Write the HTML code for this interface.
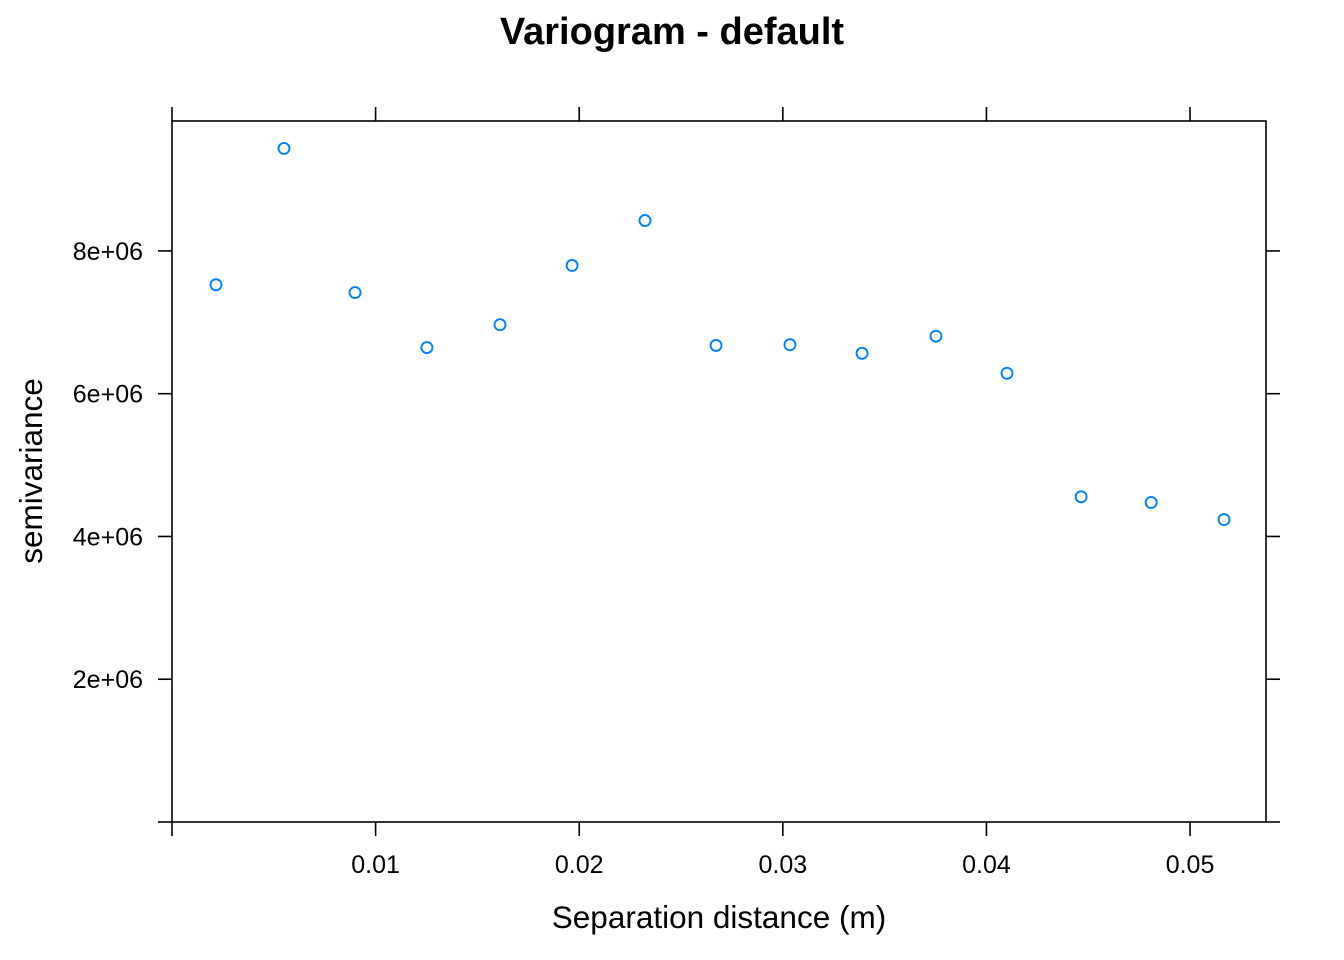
<!DOCTYPE html>
<html><head><meta charset="utf-8"><style>
body{margin:0;background:#fff;}
svg{display:block;font-family:"Liberation Sans",Arial,sans-serif;}
</style></head><body>
<svg id="chart" width="1344" height="960">
<text x="672" y="44" text-anchor="middle" font-size="38" font-weight="bold">Variogram - default</text>
<rect x="172" y="121" width="1094" height="701" fill="none" stroke="#000" stroke-width="1.6"/>
<g id="xaxis"></g>
<g id="yaxis"></g>
<g id="points"></g>
<text x="719" y="928" text-anchor="middle" font-size="31.5">Separation distance (m)</text>
<text transform="translate(42,471) rotate(-90)" text-anchor="middle" font-size="31.5">semivariance</text>
</svg>
<script>
const distances=[0.00216,0.0055,0.00899,0.01252,0.01611,0.01965,0.02323,0.02672,0.03035,0.03389,0.03752,0.04101,0.04465,0.04809,0.05167];
const gammas=[7.54e6,9.45e6,7.43e6,6.66e6,6.98e6,7.81e6,8.44e6,6.69e6,6.70e6,6.58e6,6.82e6,6.30e6,4.57e6,4.49e6,4.25e6];
const xTicks=[0,0.01,0.02,0.03,0.04,0.05];
const xTickLabels=["","0.01","0.02","0.03","0.04","0.05"];
const yTicks=[0,2e6,4e6,6e6,8e6];
const yTickLabels=["","2e+06","4e+06","6e+06","8e+06"];
const L=172,R=1266,T=121,B=822;
const xMin=0,xMax=0.05373,yMin=0,yMax=9.82e6;
const sx=v=>L+(v-xMin)/(xMax-xMin)*(R-L);
const sy=v=>B+1-(v-yMin)/(yMax-yMin)*(B-T);
const NS="http://www.w3.org/2000/svg";
function mk(tag,attrs,parent){const e=document.createElementNS(NS,tag);for(const k in attrs)e.setAttribute(k,attrs[k]);parent.appendChild(e);return e;}
const xa=document.getElementById('xaxis'),ya=document.getElementById('yaxis'),pg=document.getElementById('points');
xTicks.forEach((t,i)=>{const x=sx(t);
 let a=mk('line',{x1:x,x2:x,y1:B,y2:B+14,stroke:'#000','stroke-width':1.6},xa);
 
 let b=mk('line',{x1:x,x2:x,y1:T,y2:T-14,stroke:'#000','stroke-width':1.6},xa);
 
 if(xTickLabels[i]){let tx=mk('text',{x:x,y:873,'text-anchor':'middle','font-size':25},xa);tx.textContent=xTickLabels[i];
 }
});
yTicks.forEach((t,i)=>{const y=sy(t)-1;
 let a=mk('line',{x1:L-14,x2:L,y1:y,y2:y,stroke:'#000','stroke-width':1.6},ya);
 
 let b=mk('line',{x1:R,x2:R+14,y1:y,y2:y,stroke:'#000','stroke-width':1.6},ya);
 
 if(yTickLabels[i]){let tx=mk('text',{x:143,y:y+9,'text-anchor':'end','font-size':25},ya);tx.textContent=yTickLabels[i];
 }
});
distances.forEach((d,i)=>{
 let c=mk('circle',{cx:sx(d),cy:sy(gammas[i]),r:5.5,fill:'none',stroke:'#0080ff','stroke-width':1.9},pg);
 
});
</script>
</body></html>
